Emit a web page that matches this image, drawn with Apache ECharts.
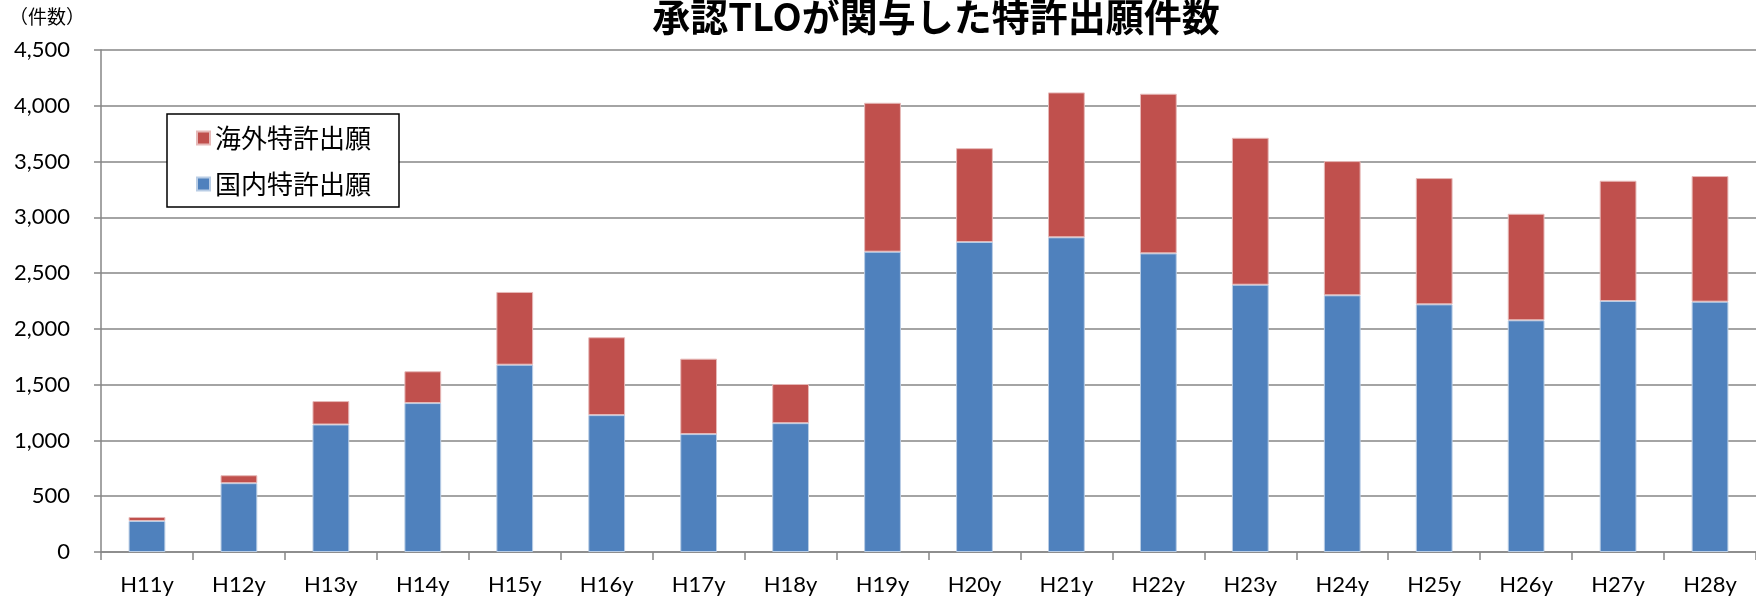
<!DOCTYPE html>
<html>
<head>
<meta charset="utf-8">
<script src="https://cdn.jsdelivr.net/npm/echarts@6/dist/echarts.min.js"></script>
<style>
html,body{margin:0;padding:0;background:#fff;}
#chart{width:1756px;height:599px;}
</style>
</head>
<body>
<div id="chart"></div>
<script>
const categories = ['H11y','H12y','H13y','H14y','H15y','H16y','H17y','H18y','H19y','H20y','H21y','H22y','H23y','H24y','H25y','H26y','H27y','H28y'];
const domestic = [278, 617, 1143, 1335, 1679, 1227, 1057, 1155, 2692, 2779, 2821, 2677, 2396, 2301, 2220, 2077, 2250, 2244];
const foreign  = [36, 71, 210, 285, 652, 698, 676, 351, 1335, 841, 1299, 1431, 1317, 1203, 1132, 955, 1078, 1126];
const seriesNames = ['国内特許出願', '海外特許出願'];
const titleText = '承認TLOが関与した特許出願件数';
const unitText = '（件数）';

const jp = '"Noto Sans CJK JP", sans-serif';
const num = 'Lato, "Noto Sans", sans-serif';

const chart = echarts.init(document.getElementById('chart'));
chart.setOption({
  animation: false,
  backgroundColor: '#fff',
  title: [
    { text: titleText, left: 931, top: -7, textAlign: 'center',
      textStyle: { fontFamily: jp, fontWeight: 'bold', fontSize: 38, color: '#000' } },
    { text: unitText, left: 4, top: 2,
      textStyle: { fontFamily: jp, fontWeight: 'normal', fontSize: 19, color: '#000' } }
  ],
  legend: {
    data: [seriesNames[1], seriesNames[0]],
    orient: 'vertical',
    left: 167, top: 114,
    padding: [11, 28, 10, 29],
    itemGap: 20,
    itemWidth: 13, itemHeight: 13,
    icon: 'rect',
    borderColor: '#000', borderWidth: 1.5,
    backgroundColor: '#fff',
    textStyle: { fontFamily: jp, fontSize: 26, color: '#000', lineHeight: 26 }
  },
  grid: { left: 101, right: 0, top: 50, bottom: 47, containLabel: false },
  xAxis: {
    type: 'category', data: categories,
    axisLine: { lineStyle: { color: '#868686', width: 1.5 } },
    axisTick: { show: true, length: 8, inside: false, lineStyle: { color: '#868686', width: 1.5 } },
    axisLabel: { fontFamily: num, fontSize: 22, color: '#000', margin: 22 }
  },
  yAxis: {
    type: 'value', min: 0, max: 4500, interval: 500,
    axisLine: { show: true, lineStyle: { color: '#868686', width: 1.5 } },
    axisTick: { show: true, length: 7, lineStyle: { color: '#868686', width: 1.5 } },
    splitLine: { lineStyle: { color: '#868686', width: 1.5 } },
    axisLabel: { fontFamily: num, fontSize: 22, color: '#000', margin: 31,
      formatter: v => v.toLocaleString('en-US') }
  },
  series: [
    { name: seriesNames[0], type: 'bar', stack: 'total', data: domestic, barWidth: '40%',
      itemStyle: { color: '#4F81BD', borderColor: '#B9CDE5', borderWidth: 1 } },
    { name: seriesNames[1], type: 'bar', stack: 'total', data: foreign, barWidth: '40%',
      itemStyle: { color: '#C0504D', borderColor: '#E6B9B8', borderWidth: 1 } }
  ]
});
</script>
</body>
</html>
